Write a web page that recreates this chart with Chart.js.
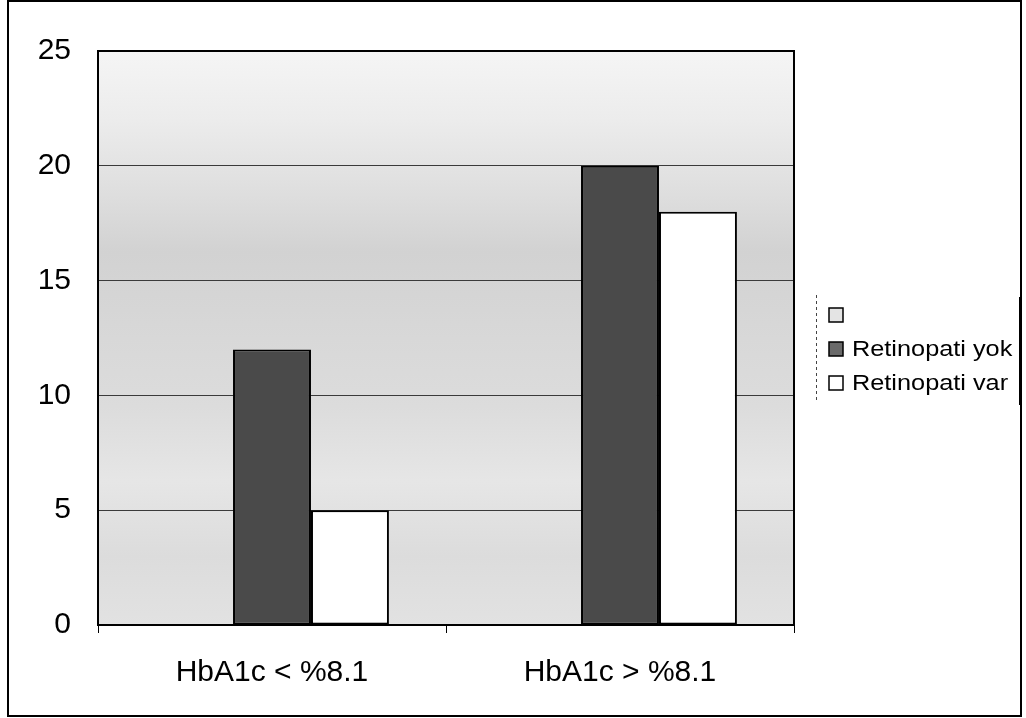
<!DOCTYPE html>
<html>
<head>
<meta charset="utf-8">
<script src="https://cdn.jsdelivr.net/npm/chart.js@4/dist/chart.umd.min.js"></script>
<style>
  html, body { margin: 0; padding: 0; background: #ffffff; }
  #wrap { width: 1026px; height: 718px; }
</style>
</head>
<body>
<div id="wrap"><canvas id="c" width="1026" height="718"></canvas></div>
<script>
const categories = ['HbA1c < %8.1', 'HbA1c > %8.1'];
const seriesLabels = ['', 'Retinopati yok', 'Retinopati var'];
const blankValues = [0, 0];
const yokValues = [12, 20];
const varValues = [5, 18];
const yMin = 0, yMax = 25, yStep = 5;

const FONT = '"Liberation Sans", Arial, sans-serif';

const bgPlugin = {
  id: 'plotBg',
  beforeDraw(chart) {
    const a = chart.chartArea, ctx = chart.ctx;
    const g = ctx.createLinearGradient(0, a.top, 0, a.bottom);
    g.addColorStop(0.00, '#f5f5f5');
    g.addColorStop(0.12, '#ececec');
    g.addColorStop(0.25, '#dedede');
    g.addColorStop(0.35, '#d2d2d2');
    g.addColorStop(0.50, '#d8d8d8');
    g.addColorStop(0.62, '#dcdcdc');
    g.addColorStop(0.75, '#e6e6e6');
    g.addColorStop(0.88, '#dcdcdc');
    g.addColorStop(1.00, '#e2e2e2');
    ctx.save();
    ctx.fillStyle = g;
    ctx.fillRect(a.left, a.top, a.right - a.left, a.bottom - a.top);
    ctx.restore();
  },
  afterDraw(chart) {
    const a = chart.chartArea, ctx = chart.ctx;
    ctx.save();
    // plot frame
    ctx.strokeStyle = '#000';
    ctx.lineWidth = 2;
    ctx.strokeRect(a.left, a.top, a.right - a.left, a.bottom - a.top);
    // outer border
    ctx.lineWidth = 2;
    ctx.strokeRect(8, 1, 1013, 715);
    // legend
    const ds = chart.data.datasets;
    const rowY = [315, 349, 383];
    ctx.setLineDash([3, 3]);
    ctx.lineWidth = 1;
    ctx.strokeStyle = '#444';
    ctx.beginPath(); ctx.moveTo(816.5, 295); ctx.lineTo(816.5, 402); ctx.stroke();
    ctx.setLineDash([]);
    ctx.lineWidth = 2;
    ctx.strokeStyle = '#000';
    ctx.beginPath(); ctx.moveTo(1020, 297); ctx.lineTo(1020, 405); ctx.stroke();
    ds.forEach((d, i) => {
      const y = rowY[i];
      ctx.fillStyle = d.legendColor;
      ctx.fillRect(829, y - 7, 14, 14);
      ctx.lineWidth = 1.5;
      ctx.strokeStyle = '#000';
      ctx.strokeRect(829, y - 7, 14, 14);
      if (d.label) {
        ctx.save();
        ctx.translate(852, y);
        ctx.scale(1.15, 1);
        ctx.fillStyle = '#000';
        ctx.font = '22px ' + FONT;
        ctx.textBaseline = 'middle';
        ctx.textAlign = 'left';
        ctx.fillText(d.label, 0, 1);
        ctx.restore();
      }
    });
    ctx.restore();
  }
};

new Chart(document.getElementById('c'), {
  type: 'bar',
  data: {
    labels: categories,
    datasets: [
      { label: seriesLabels[0], data: blankValues, backgroundColor: '#e4e4e4', legendColor: '#e4e4e4', borderWidth: 0 },
      { label: seriesLabels[1], data: yokValues, backgroundColor: '#4a4a4a', legendColor: '#6a6a6a', borderColor: '#000', borderWidth: 2, borderSkipped: false },
      { label: seriesLabels[2], data: varValues, backgroundColor: '#ffffff', legendColor: '#ffffff', borderColor: '#000', borderWidth: 2, borderSkipped: false }
    ]
  },
  options: {
    responsive: false,
    animation: false,
    devicePixelRatio: 1,
    categoryPercentage: 0.672,
    barPercentage: 1.0,
    layout: { padding: { left: 0, top: 51, right: 232, bottom: 0 } },
    plugins: {
      legend: { display: false },
      tooltip: { enabled: false }
    },
    scales: {
      x: {
        afterFit(s) { s.height = 93; },
        grid: { drawOnChartArea: false, offset: true, tickLength: 8, color: '#000', lineWidth: 1 },
        border: { display: false },
        ticks: { color: '#000', font: { family: FONT, size: 30 }, padding: 22, maxRotation: 0 }
      },
      y: {
        min: yMin, max: yMax,
        afterFit(s) { s.width = 98; },
        grid: { drawTicks: false, color: '#3a3a3a', lineWidth: 1 },
        border: { display: false },
        ticks: { stepSize: yStep, color: '#000', font: { family: FONT, size: 30 }, padding: 27 }
      }
    }
  },
  plugins: [bgPlugin]
});
</script>
</body>
</html>
